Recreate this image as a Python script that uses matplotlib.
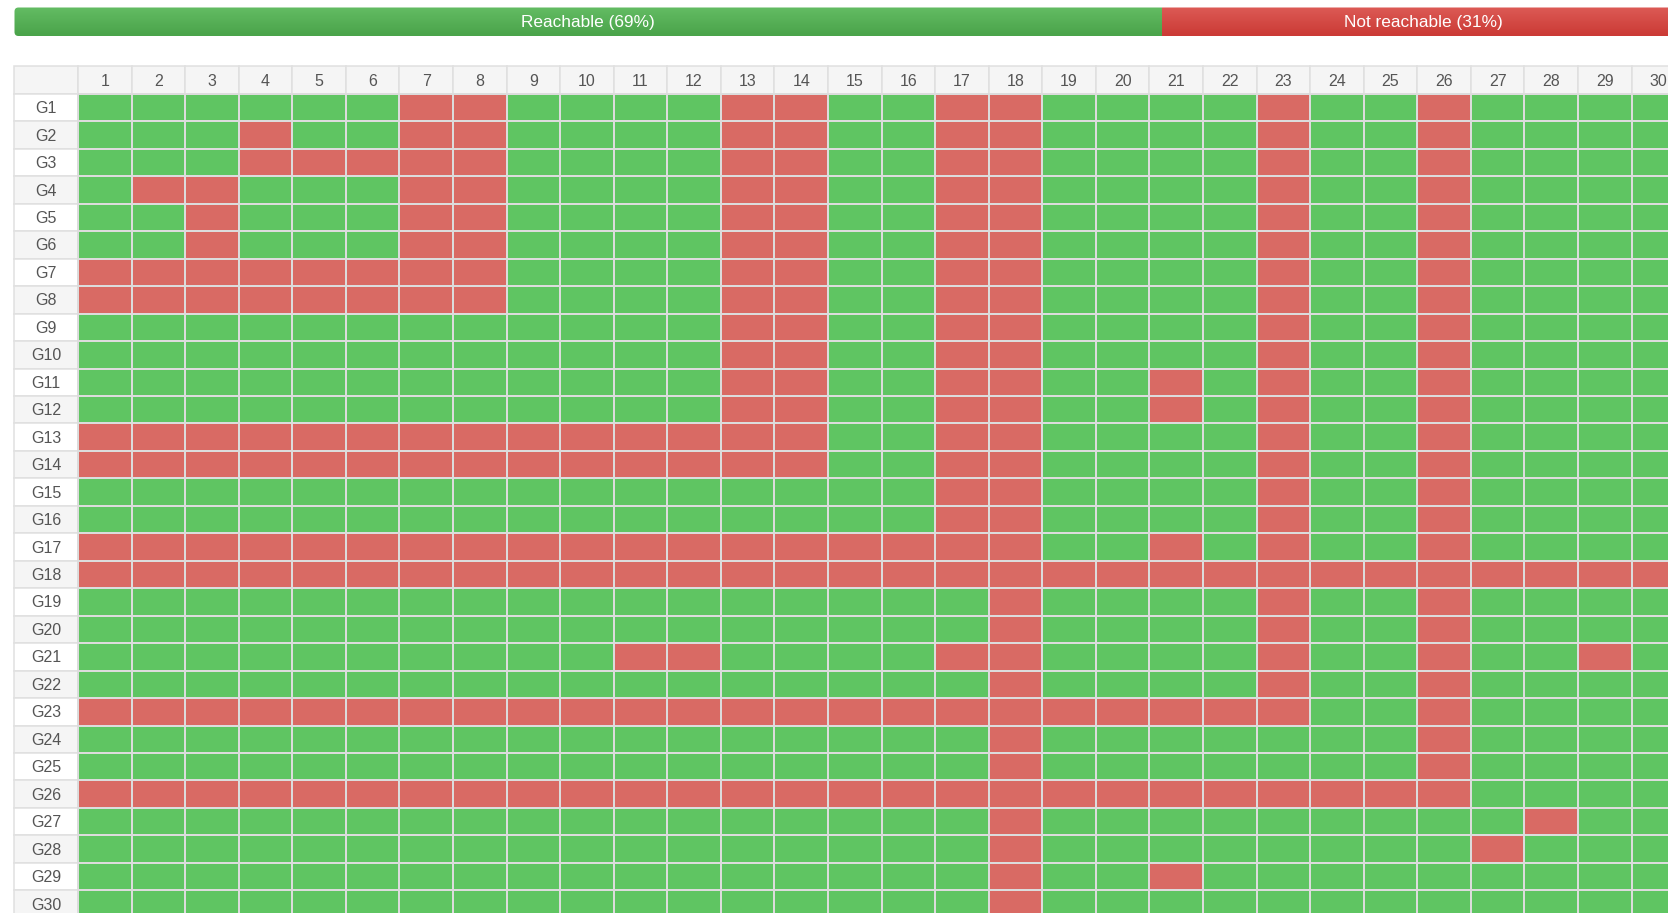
import numpy as np
import matplotlib
matplotlib.use("Agg")
import matplotlib.pyplot as plt
from matplotlib.colors import ListedColormap, LinearSegmentedColormap
from matplotlib.patches import Rectangle, FancyBboxPatch

plt.rcParams['font.family'] = ['Liberation Sans', 'DejaVu Sans']

# ---- data -------------------------------------------------------------
col_labels = [str(c) for c in range(1, 31)]
row_labels = ["G%d" % r for r in range(1, 31)]

# columns that are NOT reachable, one list per row (G1..G30)
not_reachable = [
    [7, 8, 13, 14, 17, 18, 23, 26],                      # G1
    [4, 7, 8, 13, 14, 17, 18, 23, 26],                   # G2
    [4, 5, 6, 7, 8, 13, 14, 17, 18, 23, 26],             # G3
    [2, 3, 7, 8, 13, 14, 17, 18, 23, 26],                # G4
    [3, 7, 8, 13, 14, 17, 18, 23, 26],                   # G5
    [3, 7, 8, 13, 14, 17, 18, 23, 26],                   # G6
    [1, 2, 3, 4, 5, 6, 7, 8, 13, 14, 17, 18, 23, 26],    # G7
    [1, 2, 3, 4, 5, 6, 7, 8, 13, 14, 17, 18, 23, 26],    # G8
    [13, 14, 17, 18, 23, 26],                            # G9
    [13, 14, 17, 18, 23, 26],                            # G10
    [13, 14, 17, 18, 21, 23, 26],                        # G11
    [13, 14, 17, 18, 21, 23, 26],                        # G12
    list(range(1, 15)) + [17, 18, 23, 26],               # G13
    list(range(1, 15)) + [17, 18, 23, 26],               # G14
    [17, 18, 23, 26],                                    # G15
    [17, 18, 23, 26],                                    # G16
    list(range(1, 19)) + [21, 23, 26],                   # G17
    list(range(1, 31)),                                  # G18
    [18, 23, 26],                                        # G19
    [18, 23, 26],                                        # G20
    [11, 12, 17, 18, 23, 26, 29],                        # G21
    [18, 23, 26],                                        # G22
    list(range(1, 24)) + [26],                           # G23
    [18, 26],                                            # G24
    [18, 26],                                            # G25
    list(range(1, 27)),                                  # G26
    [18, 28],                                            # G27
    [18, 27],                                            # G28
    [18, 21],                                            # G29
    [18],                                                # G30
]

# ---- layout (pixels) --------------------------------------------------
W, H = 1668, 913
left, label_w = 14.5, 63.5
cell_w, cell_h = 53.57, 27.46
top = 66.5

green, red = '#5fc562', '#d96a64'
line_c = '#e0e0e0'
txt_c = '#555555'

M = np.zeros((len(row_labels), len(col_labels)))
for i, cols in enumerate(not_reachable):
    for c in cols:
        M[i, c - 1] = 1

reach = 1 - M.mean()

fig = plt.figure(figsize=(W / 100, H / 100), dpi=100)
ax = fig.add_axes([0, 0, 1, 1])
ax.set_xlim(0, W)
ax.set_ylim(H, 0)
ax.axis('off')

# progress bar
x0 = left
x1 = left + label_w + cell_w * len(col_labels)
by0, by1 = 7.5, 36
xs = x0 + (x1 - x0) * reach
clip = FancyBboxPatch((x0, by0), x1 - x0, by1 - by0,
                      boxstyle="round,pad=0,rounding_size=4",
                      transform=ax.transData, facecolor='none', edgecolor='none')
ax.add_patch(clip)
grad = np.linspace(0, 1, 64).reshape(-1, 1)
gcm = LinearSegmentedColormap.from_list('g', ['#63bc63', '#4aa34a'])
rcm = LinearSegmentedColormap.from_list('r', ['#dc5a55', '#cb3a35'])
im1 = ax.imshow(grad, cmap=gcm, aspect='auto', extent=(x0, xs, by1, by0), zorder=2)
im2 = ax.imshow(grad, cmap=rcm, aspect='auto', extent=(xs, x1, by1, by0), zorder=2)
im1.set_clip_path(clip)
im2.set_clip_path(clip)
ax.text((x0 + xs) / 2, (by0 + by1) / 2 + 0.5, "Reachable (%d%%)" % round(reach * 100),
        color='white', ha='center', va='center', fontsize=12.4, zorder=3)
ax.text((xs + x1) / 2, (by0 + by1) / 2 + 0.5, "Not reachable (%d%%)" % round((1 - reach) * 100),
        color='white', ha='center', va='center', fontsize=12.4, zorder=3)

# header row
gx = left + label_w
ax.add_patch(Rectangle((left, top), label_w, cell_h, facecolor='#f5f5f5',
                       edgecolor=line_c, lw=1.1, zorder=2))
for j, lab in enumerate(col_labels):
    ax.add_patch(Rectangle((gx + j * cell_w, top), cell_w, cell_h, facecolor='#f5f5f5',
                           edgecolor=line_c, lw=1.1, zorder=2))
    ax.text(gx + (j + 0.5) * cell_w, top + cell_h / 2 + 1, lab, ha='center', va='center',
            fontsize=11.5, color=txt_c, zorder=3)

# row labels
gy = top + cell_h
for i, lab in enumerate(row_labels):
    fc = 'white' if i % 2 == 0 else '#f5f5f5'
    ax.add_patch(Rectangle((left, gy + i * cell_h), label_w, cell_h, facecolor=fc,
                           edgecolor=line_c, lw=1.1, zorder=2))
    ax.text(left + label_w / 2, gy + (i + 0.5) * cell_h + 1, lab, ha='center', va='center',
            fontsize=11.5, color=txt_c, zorder=3)

# grid cells
xe = gx + cell_w * np.arange(len(col_labels) + 1)
ye = gy + cell_h * np.arange(len(row_labels) + 1)
ax.pcolormesh(xe, ye, M, cmap=ListedColormap([green, red]), vmin=0, vmax=1,
              edgecolors='#dcdcdc', linewidth=1.3, zorder=2)

fig.savefig('out.png', dpi=100)
